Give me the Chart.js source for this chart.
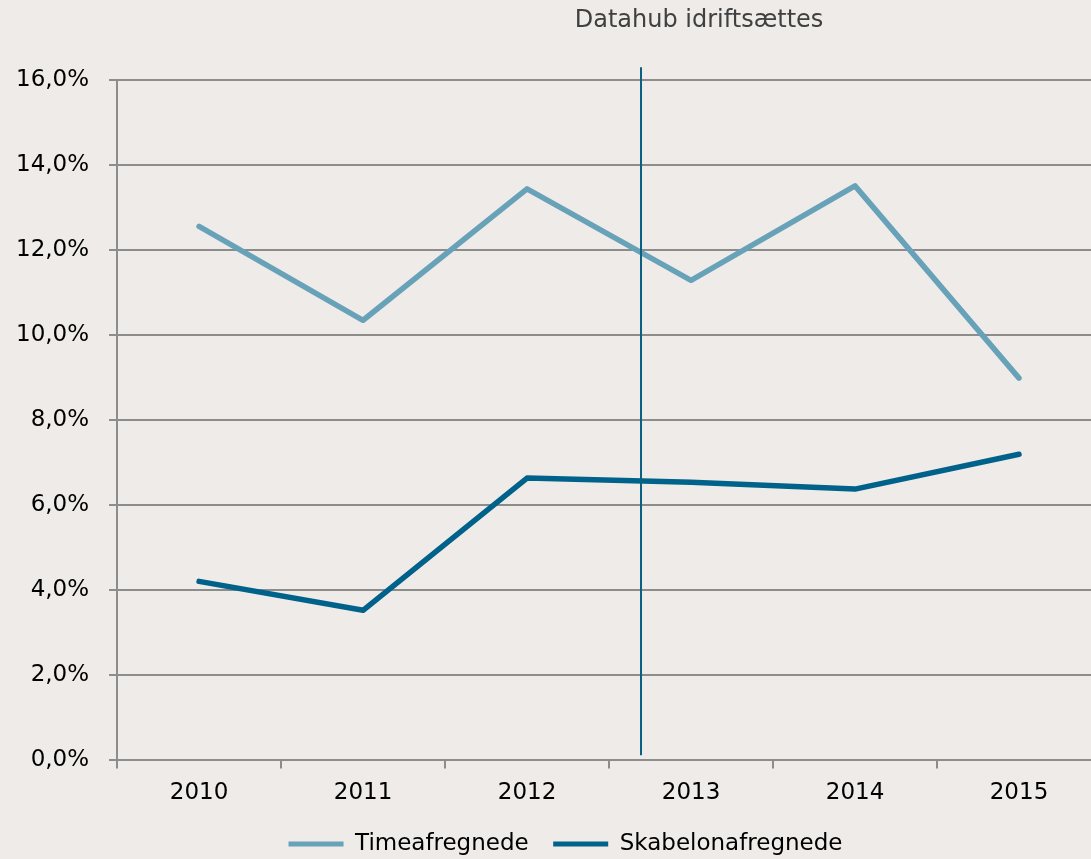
<!DOCTYPE html>
<html>
<head>
<meta charset="utf-8">
<script src="https://cdn.jsdelivr.net/npm/chart.js@4/dist/chart.umd.min.js"></script>
<style>
  html, body { margin: 0; padding: 0; background: #EEEBE8; overflow: hidden; }
  #wrap { width: 1135px; height: 859px; }
</style>
</head>
<body>
<div id="wrap"><canvas id="chart"></canvas></div>
<script>
// data
var years = ['2010', '2011', '2012', '2013', '2014', '2015'];
var timeafregnede = [12.56, 10.35, 13.44, 11.29, 13.51, 8.99];
var skabelonafregnede = [4.21, 3.53, 6.64, 6.54, 6.38, 7.20];
var seriesNames = ['Timeafregnede', 'Skabelonafregnede'];
var seriesColors = ['#68A2B9', '#00628A'];
var yMin = 0, yMax = 16, yStep = 2;
var datahubLabel = 'Datahub idriftsættes';
var datahubAt = 2.695; // category index, between 2012 and 2013

var gridColor = '#8C8C8C';
var font = 'DejaVu Sans';

var markerPlugin = {
  id: 'datahub',
  afterDatasetsDraw: function (chart) {
    var ctx = chart.ctx;
    var x = chart.scales.x.getPixelForValue(datahubAt);
    var y = chart.scales.y;
    ctx.save();
    ctx.strokeStyle = '#0B5F80';
    ctx.lineWidth = 2;
    ctx.beginPath();
    ctx.moveTo(x, y.getPixelForValue(16.3));
    ctx.lineTo(x, y.getPixelForValue(0.12));
    ctx.stroke();
    ctx.fillStyle = '#404040';
    ctx.font = '24px "' + font + '"';
    ctx.textAlign = 'center';
    ctx.textBaseline = 'middle';
    ctx.fillText(datahubLabel, x + 58, 21);
    ctx.restore();
  }
};

function makeSet(i, values) {
  return {
    label: seriesNames[i],
    data: values,
    borderColor: seriesColors[i],
    backgroundColor: seriesColors[i],
    borderWidth: 5.5,
    borderCapStyle: 'round',
    borderJoinStyle: 'round',
    pointRadius: 0,
    tension: 0
  };
}

var ctx = document.getElementById('chart').getContext('2d');
new Chart(ctx, {
  type: 'line',
  data: {
    labels: years,
    datasets: [makeSet(0, timeafregnede), makeSet(1, skabelonafregnede)]
  },
  options: {
    responsive: true,
    maintainAspectRatio: false,
    animation: false,
    layout: { padding: { top: 80, left: -4, bottom: -6.5 } },
    plugins: {
      tooltip: { enabled: false },
      legend: {
        position: 'bottom',
        labels: {
          color: '#000',
          font: { family: font, size: 23 },
          boxWidth: 55,
          boxHeight: 5,
          padding: 24.5,
          generateLabels: function (chart) {
            return Chart.defaults.plugins.legend.labels.generateLabels(chart).map(function (l) {
              l.lineWidth = 0;
              return l;
            });
          }
        }
      }
    },
    scales: {
      x: {
        offset: true,
        grid: {
          display: true,
          drawOnChartArea: false,
          drawTicks: true,
          tickLength: 8,
          color: gridColor,
          lineWidth: 2,
          offset: true
        },
        border: { display: false },
        ticks: {
          color: '#000',
          font: { family: font, size: 23 },
          padding: 11,
          maxRotation: 0
        },
        afterFit: function (s) { s.height -= 10; }
      },
      y: {
        min: yMin,
        max: yMax,
        grid: {
          color: gridColor,
          lineWidth: 2,
          tickLength: 8
        },
        border: { display: true, color: gridColor, width: 2 },
        ticks: {
          stepSize: yStep,
          color: '#000',
          font: { family: font, size: 23 },
          padding: 20,
          callback: function (v) { return v.toFixed(1).replace('.', ',') + '%'; }
        }
      },
      pad: {
        position: 'right',
        display: true,
        grid: { display: false },
        border: { display: false },
        ticks: { display: false },
        afterFit: function (s) { s.width = 34; }
      }
    }
  },
  plugins: [markerPlugin]
});
</script>
</body>
</html>
